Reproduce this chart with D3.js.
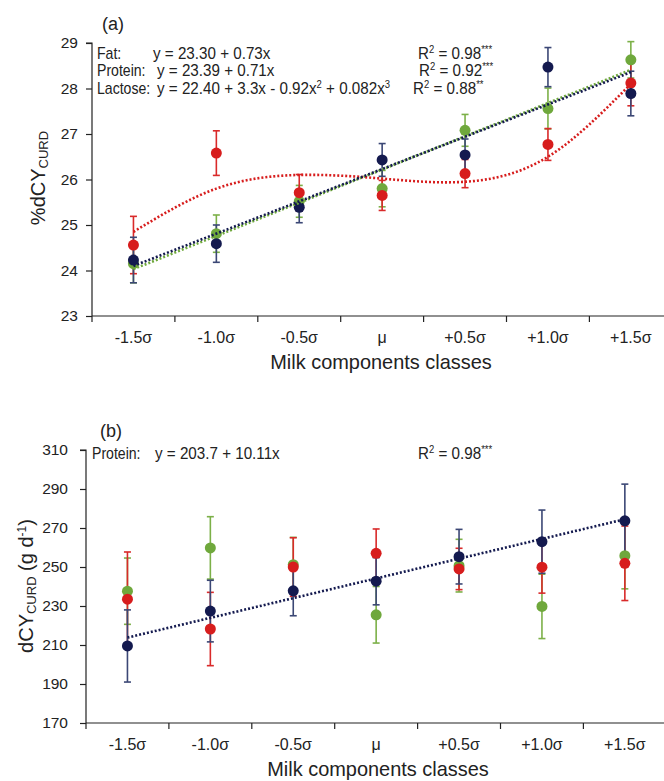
<!DOCTYPE html>
<html>
<head>
<meta charset="utf-8">
<script src="https://cdn.jsdelivr.net/npm/d3@7"></script>
<style>
  body { margin: 0; background: #fff; }
  svg text { font-family: "Liberation Sans", Arial, sans-serif; fill: #222; }
  .axis path, .axis line { stroke: #222; stroke-width: 1.2; }
</style>
</head>
<body>
<div id="chart"></div>
<script>
// categories
const classes = ["-1.5σ", "-1.0σ", "-0.5σ", "μ", "+0.5σ", "+1.0σ", "+1.5σ"];

// panel (a) %dCY_CURD
const fatPct = [24.15, 24.81, 25.52, 25.80, 27.08, 27.56, 28.63];
const fatPctErr = [0.42, 0.41, 0.35, 0.40, 0.35, 0.45, 0.40];
const proteinPct = [24.23, 24.59, 25.39, 26.43, 26.54, 28.47, 27.89];
const proteinPctErr = [0.50, 0.41, 0.34, 0.36, 0.35, 0.43, 0.49];
const lactosePct = [24.56, 26.58, 25.71, 25.65, 26.13, 26.77, 28.12];
const lactosePctErr = [0.63, 0.49, 0.40, 0.33, 0.31, 0.35, 0.50];
// fitted trends
const fatPctTrend = [24.03, 28.41];
const proteinPctTrend = [24.10, 28.36];
const lactosePctTrend = [24.85, 25.80, 26.10, 26.02, 25.95, 26.50, 28.10];

// panel (b) dCY_CURD g/d
const fatDay = [237.6, 259.8, 251.2, 225.5, 250.7, 229.8, 255.8];
const fatDayErr = [17.0, 16.0, 14.0, 14.5, 13.5, 16.5, 17.0];
const proteinDay = [209.5, 227.4, 237.8, 242.7, 255.3, 263.0, 273.7];
const proteinDayErr = [18.5, 15.8, 12.8, 12.1, 14.0, 16.2, 18.8];
const lactoseDay = [233.5, 218.2, 250.0, 257.0, 249.0, 249.9, 251.9];
const lactoseDayErr = [24.2, 18.8, 15.0, 12.5, 10.6, 13.3, 19.1];
const proteinDayTrend = [213.8, 274.5];

const ticksA = [23, 24, 25, 26, 27, 28, 29];
const ticksB = [170, 190, 210, 230, 250, 270, 290, 310];

const colors = { fat: "#6fa83c", protein: "#141a4f", lactose: "#d71d1d" };
const errColors = { fat: "#7cb048", protein: "#3b4775", lactose: "#d92a2a" };

const width = 664, height = 781;
const svg = d3.select("#chart").append("svg")
  .attr("width", width).attr("height", height);

// text squeezed horizontally (the original font is a bit narrow)
function narrow(parent, x, y, size, anchor, sx) {
  return parent.append("text")
    .attr("transform", `translate(${x},${y}) scale(${sx || 0.95},1)`)
    .attr("font-size", size)
    .attr("text-anchor", anchor || "start");
}
function sup(t, s) {
  t.append("tspan").attr("font-size", 10).attr("dy", -6).text(s);
  return t;
}

function panel(opts) {
  const x = d3.scaleBand().domain(classes).range([opts.left, opts.left + 7 * 82.9]);
  const y = d3.scaleLinear().domain(opts.domain).range([opts.bottom, opts.top]);
  const cx = d => x(d) + x.bandwidth() / 2;

  const g = svg.append("g");

  // x axis with ticks between classes
  const xa = g.append("g").attr("class", "axis")
    .attr("transform", `translate(0,${opts.bottom})`);
  xa.append("line").attr("x1", opts.left).attr("x2", width + 10).attr("y1", 0).attr("y2", 0);
  xa.selectAll(".tk").data(classes).join("line")
    .attr("x1", d => x(d)).attr("x2", d => x(d)).attr("y1", 0).attr("y2", 6);
  xa.selectAll("text").data(classes).join("text")
    .attr("x", d => cx(d)).attr("y", 27)
    .attr("text-anchor", "middle").attr("font-size", 16).text(d => d);

  // y axis
  const ya = g.append("g").attr("class", "axis")
    .attr("transform", `translate(${opts.left},0)`)
    .call(d3.axisLeft(y).tickValues(opts.ticks).tickSize(6).tickSizeOuter(0).tickFormat(d3.format("d")));
  ya.select(".domain").attr("d", `M-6,${opts.top}H0V${opts.bottom}`);
  ya.selectAll("text").attr("font-size", 15.5).attr("x", opts.labelGap);

  // axis title
  narrow(g, (opts.left + 670) / 2, opts.bottom + 53, 21, "middle").text("Milk components classes");

  // panel label
  g.append("text").attr("x", opts.labelX).attr("y", opts.top - 13).attr("font-size", 18).text(opts.label);

  // error bars then dots
  opts.series.forEach(s => {
    const eb = g.append("g");
    s.values.forEach((v, i) => {
      const c = cx(classes[i]);
      const lo = y(v - s.err[i]), hi = y(v + s.err[i]);
      eb.append("line").attr("x1", c).attr("x2", c).attr("y1", lo).attr("y2", hi)
        .attr("stroke", s.errColor).attr("stroke-width", 1.6);
      [lo, hi].forEach(yy => eb.append("line")
        .attr("x1", c - 3.5).attr("x2", c + 3.5).attr("y1", yy).attr("y2", yy)
        .attr("stroke", s.errColor).attr("stroke-width", 1.6));
    });
  });
  opts.series.forEach(s => {
    g.append("g").selectAll("circle").data(s.values).join("circle")
      .attr("cx", (d, i) => cx(classes[i])).attr("cy", d => y(d))
      .attr("r", 5.5).attr("fill", s.color);
  });

  // dotted trend lines
  opts.trends.forEach(t => {
    const xs = t.values.length === 2 ? [classes[0], classes[6]] : classes;
    const line = d3.line().x((d, i) => cx(xs[i])).y(d => y(d))
      .curve(t.values.length === 2 ? d3.curveLinear : d3.curveNatural);
    g.append("path").attr("d", line(t.values)).attr("fill", "none")
      .attr("stroke", t.color).attr("stroke-width", 2.6).attr("stroke-dasharray", "2,2");
  });

  return { g, x, y };
}

// panel (a)
const pa = panel({
  left: 92, top: 43, bottom: 316, domain: [23, 29], ticks: ticksA, label: "(a)",
  labelGap: -14, labelX: 102,
  series: [
    { values: fatPct, err: fatPctErr, color: colors.fat, errColor: errColors.fat },
    { values: lactosePct, err: lactosePctErr, color: colors.lactose, errColor: errColors.lactose },
    { values: proteinPct, err: proteinPctErr, color: colors.protein, errColor: errColors.protein }
  ],
  trends: [
    { values: fatPctTrend, color: colors.fat },
    { values: lactosePctTrend, color: colors.lactose },
    { values: proteinPctTrend, color: colors.protein }
  ]
});

// regression equations (a)
const eqA = [
  ["Fat:", "y = 23.30 + 0.73x", "0.98", "***", 153, 418],
  ["Protein:", "y = 23.39 + 0.71x", "0.92", "***", 157, 419],
  ["Lactose:", "y = 22.40 + 3.3x - 0.92x", "0.88", "**", 157, 413]
];
eqA.forEach((r, i) => {
  const yy = 58.5 + i * 17.5;
  narrow(pa.g, 97, yy, 16, "start", 0.88).text(r[0]);
  const t = narrow(pa.g, r[4], yy, 16);
  t.append("tspan").text(r[1]);
  if (i === 2) {
    sup(t, "2");
    t.append("tspan").attr("dy", 6).text(" + 0.082x");
    sup(t, "3");
  }
  const r2 = narrow(pa.g, r[5], yy, 16);
  r2.append("tspan").text("R");
  sup(r2, "2");
  r2.append("tspan").attr("dy", 6).text(" = " + r[2]);
  sup(r2, r[3]);
});

// y title (a)
const ta = svg.append("text").attr("transform", "translate(45,178) rotate(-90)")
  .attr("text-anchor", "middle").attr("font-size", 20);
ta.append("tspan").text("%dCY");
ta.append("tspan").attr("font-size", 13).attr("dy", 3).text("CURD");

// panel (b)
const pb = panel({
  left: 86, top: 450, bottom: 723, domain: [170, 310], ticks: ticksB, label: "(b)",
  labelGap: -18, labelX: 100,
  series: [
    { values: fatDay, err: fatDayErr, color: colors.fat, errColor: errColors.fat },
    { values: lactoseDay, err: lactoseDayErr, color: colors.lactose, errColor: errColors.lactose },
    { values: proteinDay, err: proteinDayErr, color: colors.protein, errColor: errColors.protein }
  ],
  trends: [{ values: proteinDayTrend, color: colors.protein }]
});

narrow(pb.g, 92, 458.5, 16, "start", 0.88).text("Protein:");
narrow(pb.g, 155, 458.5, 16).text("y = 203.7 + 10.11x");
const r2b = narrow(pb.g, 418, 458.5, 16);
r2b.append("tspan").text("R");
sup(r2b, "2");
r2b.append("tspan").attr("dy", 6).text(" = 0.98");
sup(r2b, "***");

// y title (b)
const tb = svg.append("text").attr("transform", "translate(33,586) rotate(-90)")
  .attr("text-anchor", "middle").attr("font-size", 20);
tb.append("tspan").text("dCY");
tb.append("tspan").attr("font-size", 13).attr("dy", 3).text("CURD");
tb.append("tspan").attr("dy", -3).text(" (g d");
tb.append("tspan").attr("font-size", 12).attr("dy", -7).text("-1");
tb.append("tspan").attr("dy", 7).text(")");
</script>
</body>
</html>
